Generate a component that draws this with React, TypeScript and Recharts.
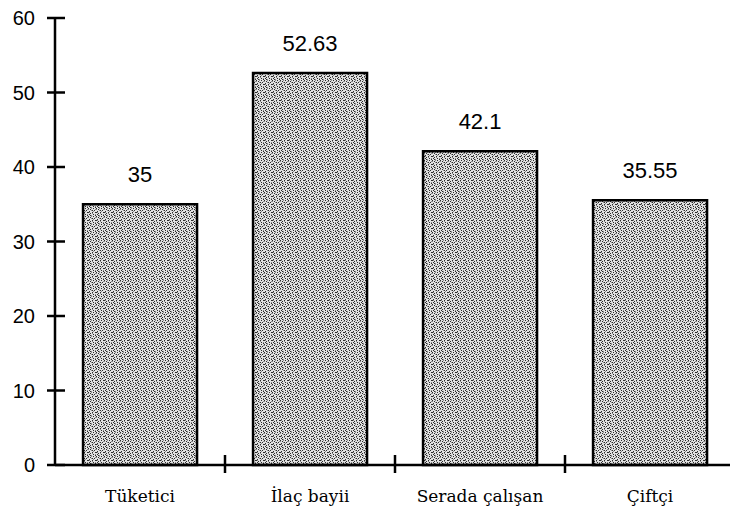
import { BarChart, Bar, XAxis, YAxis, LabelList } from "recharts";

const categories = ["Tüketici", "İlaç bayii", "Serada çalışan", "Çiftçi"];
const values = [35, 52.63, 42.1, 35.55];
const valueLabels = ["35", "52.63", "42.1", "35.55"];
const yTicks = [0, 10, 20, 30, 40, 50, 60];

const data = categories.map((name, i) => ({
  name,
  value: values[i],
  label: valueLabels[i],
}));

const W = 740;
const H = 510;
const MARGIN = { top: 18, right: 5, left: 0, bottom: 0 };
const Y_AXIS_W = 55;
const HALF_BAND = (W - MARGIN.left - MARGIN.right - Y_AXIS_W) / categories.length / 2;

// stipple texture, 8x8 cells, '#' = dark pixel, '+' = mid grey
const STIPPLE = [
  "#..+.#..",
  "+.#....+",
  "...+#.#.",
  ".#...+..",
  "#+..#..#",
  "..#.+...",
  ".#...#.+",
  "..#+...#",
];

function YTick(props: any) {
  const { x, y, payload } = props;
  return (
    <g>
      <line x1={x - 8} x2={x + 10} y1={y} y2={y} stroke="#000" strokeWidth={2.5} />
      <text
        x={x - 20}
        y={y}
        dy={7}
        textAnchor="end"
        fontFamily="'Liberation Sans', Arial, sans-serif"
        fontSize={20}
        fill="#000"
      >
        {payload.value}
      </text>
    </g>
  );
}

function XTick(props: any) {
  const { x, y, payload, index } = props;
  return (
    <g>
      {index < categories.length - 1 && (
        <line
          x1={x + HALF_BAND}
          x2={x + HALF_BAND}
          y1={y - 10}
          y2={y + 8}
          stroke="#000"
          strokeWidth={2.5}
        />
      )}
      <text
        x={x}
        y={y + 37}
        textAnchor="middle"
        fontFamily="'DejaVu Serif', serif"
        fontSize={17}
        fill="#000"
      >
        {payload.value}
      </text>
    </g>
  );
}

export default function App() {
  return (
    <div style={{ position: "absolute", left: 0, top: 0, width: 730, height: 510, overflow: "hidden", background: "#fff" }}>
      <BarChart width={W} height={H} data={data} margin={MARGIN} barCategoryGap="16.5%">
        <defs>
          <pattern id="stipple" width={8} height={8} patternUnits="userSpaceOnUse">
            <rect width={8} height={8} fill="#e2e2e2" />
            {STIPPLE.map((row, r) =>
              row.split("").map((c, col) =>
                c !== "." ? (
                  <rect
                    key={`${r}-${col}`}
                    x={col}
                    y={r}
                    width={1}
                    height={1}
                    fill={c === "#" ? "#2a2a2a" : "#8a8a8a"}
                  />
                ) : null
              )
            )}
          </pattern>
        </defs>
        <XAxis
          dataKey="name"
          height={45}
          tickSize={0}
          tickMargin={0}
          tickLine={false}
          axisLine={{ stroke: "#000", strokeWidth: 2.5 }}
          tick={<XTick />}
          interval={0}
        />
        <YAxis
          width={Y_AXIS_W}
          domain={[0, 60]}
          ticks={yTicks}
          tickSize={0}
          tickMargin={0}
          tickLine={false}
          axisLine={{ stroke: "#000", strokeWidth: 2.5 }}
          tick={<YTick />}
          interval={0}
        />
        <Bar dataKey="value" fill="url(#stipple)" stroke="#000" strokeWidth={2.5} isAnimationActive={false}>
          <LabelList
            dataKey="label"
            position="top"
            offset={22}
            fill="#000"
            fontSize={22}
            fontFamily="'Liberation Sans', Arial, sans-serif"
          />
        </Bar>
      </BarChart>
    </div>
  );
}
